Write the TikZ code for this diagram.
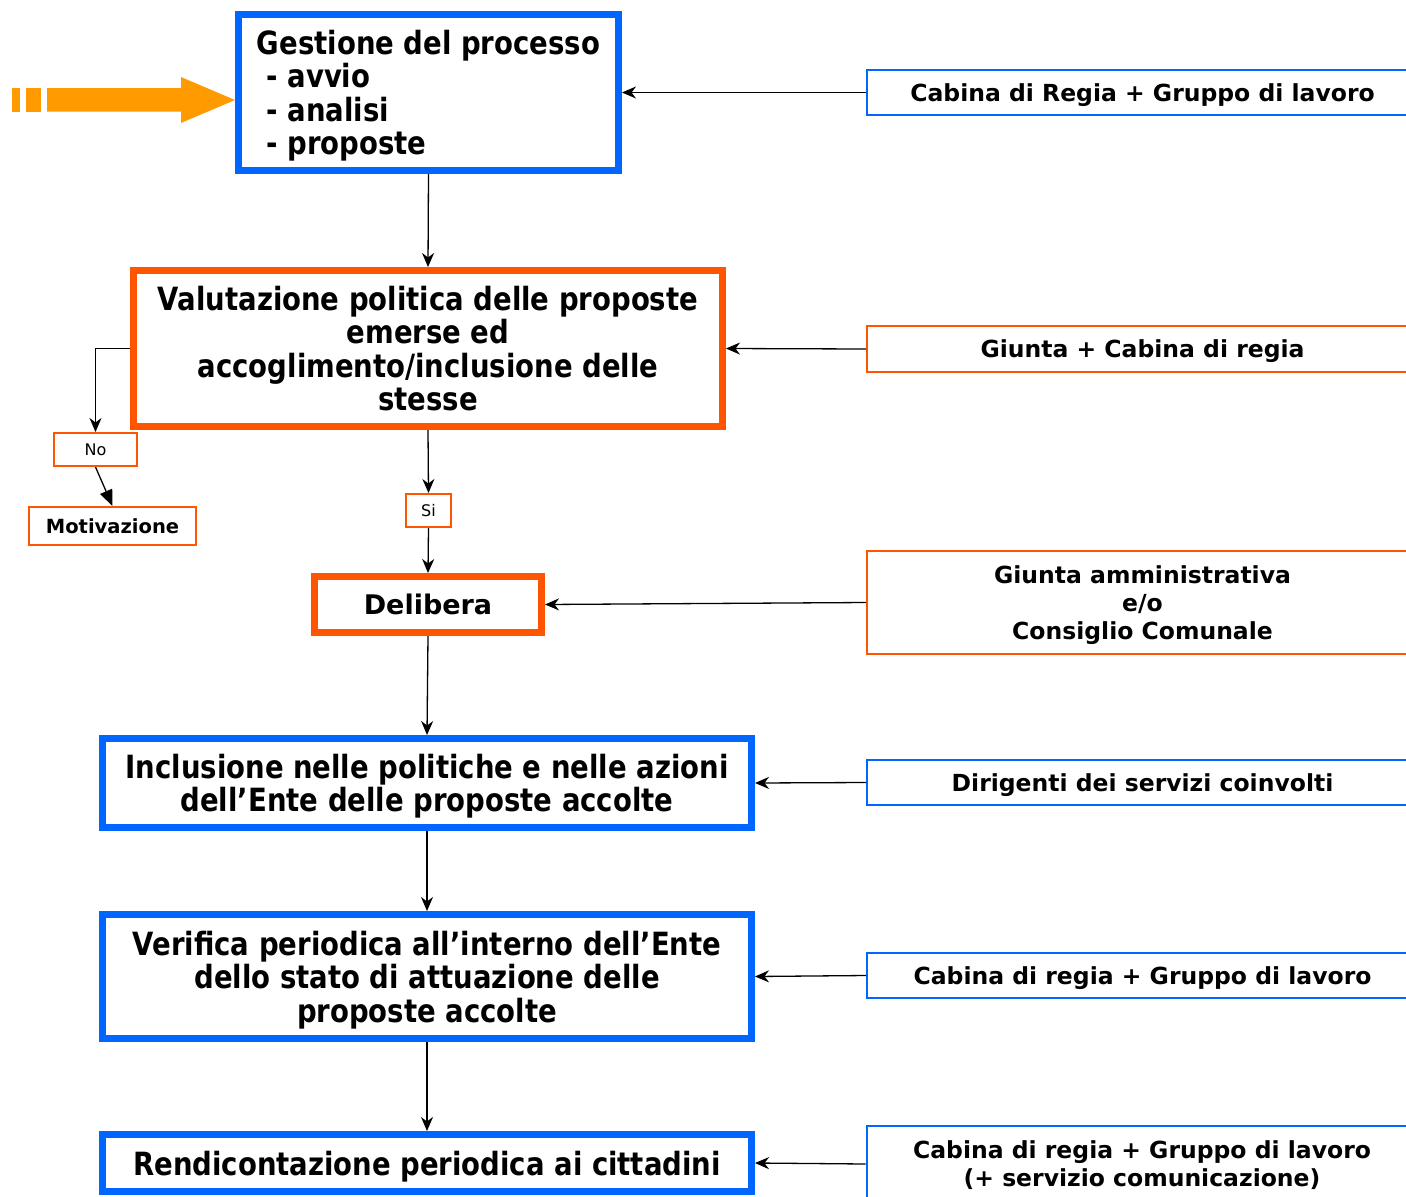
\documentclass[tikz,border=0pt]{standalone}
\usepackage{fontspec}
\setmainfont{DejaVu Sans}
\newfontfamily\condfont[FakeStretch=0.86]{DejaVu Sans}
\usetikzlibrary{arrows.meta}
\definecolor{myblue}{HTML}{0066FF}
\definecolor{myorange}{HTML}{FF5500}
\definecolor{arrorange}{HTML}{FF9A00}
\newcommand\nodepth[1]{\raisebox{0pt}[\height][0pt]{#1}}
\tikzset{
  mainbox/.style={draw, line width=7pt, fill=white, inner sep=0pt, align=center,
    font=\condfont\bfseries\fontsize{32}{33.5}\selectfont},
  bluebox/.style={mainbox, draw=myblue},
  orbox/.style={mainbox, draw=myorange},
  sidebox/.style={draw, line width=2pt, fill=white, inner sep=0pt, align=center,
    minimum width=551pt, font=\bfseries\fontsize{23.5}{28}\selectfont},
  smallbox/.style={draw=myorange, line width=2pt, fill=white, inner sep=0pt, align=center},
  arr/.style={line width=1.3pt, -{Stealth[length=14pt,width=12pt,inset=4.5pt]}},
  bigarr/.style={line width=1.3pt, -{Triangle[length=16pt,width=13pt]}},
}
\begin{document}
\begin{tikzpicture}[x=1pt,y=-1pt]
\path[use as bounding box] (0,0) rectangle (1406,1197);
\clip (0,0) rectangle (1406,1197);

% main column
\node[bluebox, minimum width=380pt, minimum height=156pt, align=left] (gest) at (428.5,92.5)
  {Gestione del processo\\\ - avvio\\\ - analisi\\\nodepth{\ - proposte}};
\node[orbox, minimum width=589pt, minimum height=156pt] (val) at (428,348.5)
  {Valutazione politica delle proposte\\emerse ed\\accoglimento/inclusione delle\\stesse};
\node[orbox, font=\bfseries\fontsize{27}{32}\selectfont, minimum width=227pt, minimum height=56pt] (del) at (428,604.5)
  {Delibera};
\node[bluebox, minimum width=649pt, minimum height=89pt] (incl) at (427,783)
  {Inclusione nelle politiche e nelle azioni\\\nodepth{dell’Ente delle proposte accolte}};
\node[bluebox, minimum width=649pt, minimum height=124pt] (ver) at (427,976.5)
  {Verifica periodica all’interno dell’Ente\\dello stato di attuazione delle\\\nodepth{proposte accolte}};
\node[bluebox, minimum width=649pt, minimum height=57pt] (rend) at (427,1163)
  {\nodepth{Rendicontazione periodica ai cittadini}};

% small decision boxes
\node[smallbox, minimum width=83pt, minimum height=33pt, font=\fontsize{16}{18}\selectfont] (no) at (95.5,449.5) {No};
\node[smallbox, minimum width=167pt, minimum height=38pt, font=\bfseries\fontsize{19.5}{22}\selectfont] (mot) at (112.5,526) {Motivazione};
\node[smallbox, minimum width=45pt, minimum height=33pt, font=\fontsize{16}{18}\selectfont] (si) at (428.5,510.5) {Si};

% side boxes
\node[sidebox, draw=myblue, minimum height=45pt] (rb1) at (1142.5,92.5) {\nodepth{Cabina di Regia + Gruppo di lavoro}};
\node[sidebox, draw=myorange, minimum height=46pt] (rb2) at (1142.5,349) {\nodepth{Giunta + Cabina di regia}};
\node[sidebox, draw=myorange, minimum height=103pt] (rb3) at (1142.5,602.5) {Giunta amministrativa\\e/o\\\nodepth{Consiglio Comunale}};
\node[sidebox, draw=myblue, minimum height=45pt] (rb4) at (1142.5,782.5) {\nodepth{Dirigenti dei servizi coinvolti}};
\node[sidebox, draw=myblue, minimum height=45pt] (rb5) at (1142.5,975.5) {\nodepth{Cabina di regia + Gruppo di lavoro}};
\node[sidebox, draw=myblue, minimum height=76pt] (rb6) at (1142,1164) {Cabina di regia + Gruppo di lavoro\\\nodepth{(+ servizio comunicazione)}};

% orange entry arrow
\fill[arrorange] (12,88) rectangle (19.6,111.5);
\fill[arrorange] (25.7,88) rectangle (40.8,111.5);
\fill[arrorange] (47,88) -- (181,88) -- (181,77) -- (235,100) -- (181,123) -- (181,111.5) -- (47,111.5) -- cycle;

% vertical flow
\draw[arr] (gest.south) -- (val.north);
\draw[arr] (val.south) -- (si.north);
\draw[arr] (si.south) -- (del.north);
\draw[arr] (del.south) -- (incl.north);
\draw[arr] (incl.south) -- (ver.north);
\draw[arr] (ver.south) -- (rend.north);
\draw[arr] (val.west) -| (no.north);
\draw[bigarr] (no.south) -- (mot.north);

% side arrows
\draw[arr] (rb1.west) -- (gest.east);
\draw[arr] (rb2.west) -- (val.east);
\draw[arr] (rb3.west) -- (del.east);
\draw[arr] (rb4.west) -- (incl.east);
\draw[arr] (rb5.west) -- (ver.east);
\draw[arr] (rb6.west) -- (rend.east);
\end{tikzpicture}
\end{document}
